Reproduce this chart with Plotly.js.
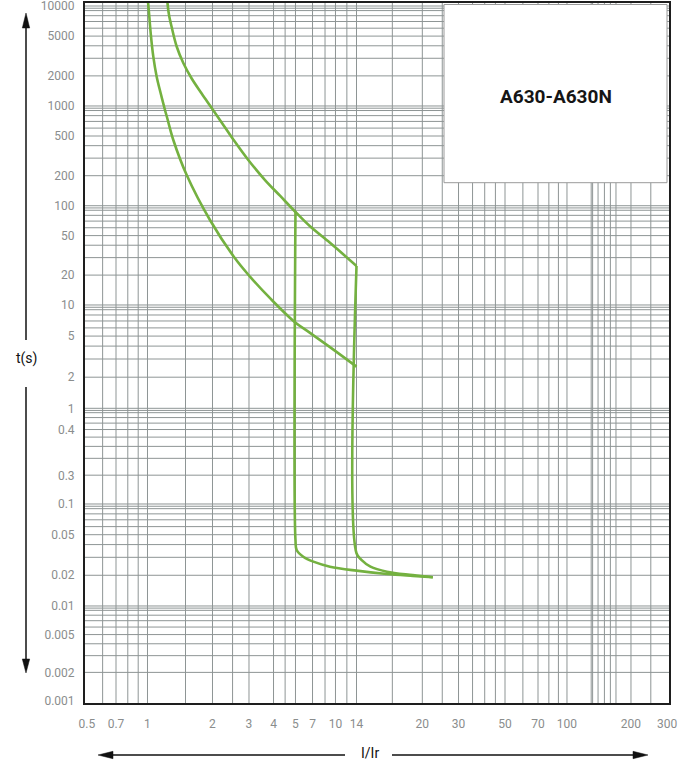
<!DOCTYPE html>
<html>
<head>
<meta charset="utf-8">
<script src="https://cdn.plot.ly/plotly-3.0.1.min.js"></script>
<style>
  html, body { margin: 0; padding: 0; background: #ffffff; }
  #chart { width: 694px; height: 760px; }
</style>
</head>
<body>
<div id="chart"></div>
<script>
// ---- Axis labels ----
const I_TICKS = [0.5, 0.7, 1, 2, 3, 4, 5, 7, 10, 14, 20, 30, 50, 70, 100, 200, 300];
const T_TICKS = [10000, 5000, 2000, 1000, 500, 200, 100, 50, 20, 10, 5, 2, 1, 0.4, 0.3,
                 0.1, 0.05, 0.02, 0.01, 0.005, 0.002, 0.001];

// ---- Thermal release: cold (fast) curve ----
const COLD_I = [1.0, 1.009, 1.035, 1.064, 1.103, 1.151, 1.205, 1.235, 1.317, 1.519, 1.947,
                2.568, 3.035, 3.839, 4.94, 6.66, 9.18, 14];
const COLD_T = [12000, 10230, 5333, 3112, 1963, 1340, 912, 753, 456, 203, 71.8,
                29.5, 19.3, 11.7, 6.89, 5.37, 3.91, 2.53];

// ---- Thermal release: hot (slow) curve ----
const HOT_I = [1.235, 1.238, 1.258, 1.294, 1.365, 1.465, 1.602, 1.782, 1.983, 2.222, 2.519,
               2.977, 3.62, 4.272, 4.94, 6.66, 9.18, 14];
const HOT_T = [12000, 10700, 8128, 6166, 3936, 2692, 1884, 1334, 955, 675, 461,
               287, 181, 126, 89, 62, 42.3, 24.7];

// ---- Magnetic release, low threshold ----
const MAG_LOW_I = [5, 5, 5.12, 5.83, 7.09, 9.18, 14.0, 16.5, 19.0, 22.5];
const MAG_LOW_T = [88, 0.0444, 0.0354, 0.0304, 0.0272, 0.0243, 0.0222, 0.0206, 0.0197, 0.0191];

// ---- Magnetic release, high threshold ----
const MAG_HIGH_I = [14, 14, 14.4, 15.1, 16.5, 19.0, 22.5];
const MAG_HIGH_T = [24.7, 0.0329, 0.0282, 0.0243, 0.0217, 0.0201, 0.0191];

// ---- Ruling of the graph paper ----
const I_GRID = [0.6, 0.7, 0.8, 0.9, 1, 1.5, 2, 2.5, 3, 4, 4.5, 5, 7, 8.5, 10, 12, 14, 17,
                20, 25, 30, 35, 40, 45, 50, 60, 70, 80, 90, 100, 130, 132, 140, 150, 160,
                170, 200, 250];
const T_DECADES = [0.001, 0.01, 0.1, 1, 10, 100, 1000];
const T_STEPS = [2, 3, 4, 5, 6, 7, 8, 9, 9.5, 10];

// ---- Scales: anchor value -> fraction of the axis, logarithmic between anchors ----
const X_ANCHOR_VAL = I_TICKS;
const X_ANCHOR_POS = [0.0031, 0.0531, 0.1070, 0.2183, 0.2808, 0.3228, 0.3604, 0.3896,
                      0.4289, 0.4649, 0.5776, 0.6396, 0.7192, 0.7757, 0.8253, 0.9349, 0.9966];
// decade ruling of the time axis
const Y_DECADE_VAL = [0.001, 0.01, 0.1, 1, 10, 100, 1000, 10000];
const Y_DECADE_POS = [0.0029, 0.1386, 0.2843, 0.4210, 0.5686, 0.7104, 0.8529, 0.9957];
// labelled time scale (the 0.3 / 0.4 labels sit inside the 0.1-1 decade)
const Y_ANCHOR_VAL = [0.001, 0.01, 0.1, 0.3, 0.4, 1, 10, 100, 1000, 10000];
const Y_ANCHOR_POS = [0.0029, 0.1386, 0.2843, 0.3247, 0.3900, 0.4210, 0.5686, 0.7104, 0.8529, 0.9957];

function makeScale(vals, pos) {
  return function (v) {
    let i = 0;
    while (i < vals.length - 2 && v > vals[i + 1]) i++;
    const f = Math.log(v / vals[i]) / Math.log(vals[i + 1] / vals[i]);
    return pos[i] + f * (pos[i + 1] - pos[i]);
  };
}
const sx = makeScale(X_ANCHOR_VAL, X_ANCHOR_POS);
const sy = makeScale(Y_ANCHOR_VAL, Y_ANCHOR_POS);
const syRule = makeScale(Y_DECADE_VAL, Y_DECADE_POS);

// ---- Page geometry helpers (plot area 584 x 700 px at left 85, top 3) ----
const M = { l: 85, r: 25, t: 3, b: 57 };
const PW = 694 - M.l - M.r, PH = 760 - M.t - M.b;
const px = p => (p - M.l) / PW;
const py = p => (M.t + PH - p) / PH;

const GREEN = '#74b140';
const GRID = '#8e9595';

function curve(I, T, name) {
  return {
    type: 'scatter', mode: 'lines', name: name,
    x: I.map(sx), y: T.map(sy),
    line: { color: GREEN, width: 2.6, shape: 'spline', smoothing: 1.0 },
    hoverinfo: 'skip'
  };
}

const data = [
  curve(COLD_I, COLD_T, 'cold'),
  curve(HOT_I, HOT_T, 'hot'),
  curve(MAG_LOW_I, MAG_LOW_T, 'magnetic low'),
  curve(MAG_HIGH_I, MAG_HIGH_T, 'magnetic high')
];

const shapes = [];
I_GRID.forEach(v => shapes.push({
  type: 'line', xref: 'x', yref: 'paper', x0: sx(v), x1: sx(v), y0: 0, y1: 1,
  line: { color: GRID, width: 1 }, layer: 'below'
}));
T_DECADES.forEach(d => T_STEPS.forEach(s => {
  const v = syRule(d * s);
  shapes.push({
    type: 'line', xref: 'paper', yref: 'y', x0: 0, x1: 1, y0: v, y1: v,
    line: { color: GRID, width: 1 }, layer: 'below'
  });
}));

// label box
shapes.push({
  type: 'rect', xref: 'paper', yref: 'paper',
  x0: px(444), x1: px(667), y0: py(182.7), y1: py(4.5),
  fillcolor: '#ffffff', line: { color: '#9a9a9a', width: 1 }, layer: 'above'
});

// axis arrows
const AX = { color: '#111111', width: 1.5 };
const vx = px(26);
shapes.push({ type: 'line', xref: 'paper', yref: 'paper', x0: vx, x1: vx, y0: py(27), y1: py(340), line: AX });
shapes.push({ type: 'line', xref: 'paper', yref: 'paper', x0: vx, x1: vx, y0: py(387), y1: py(660), line: AX });
const hy = py(755);
shapes.push({ type: 'line', xref: 'paper', yref: 'paper', x0: px(112), x1: px(345), y0: hy, y1: hy, line: AX });
shapes.push({ type: 'line', xref: 'paper', yref: 'paper', x0: px(392), x1: px(634), y0: hy, y1: hy, line: AX });

function tri(a, b, c) {
  const f = p => px(p[0]).toFixed(5) + ',' + py(p[1]).toFixed(5);
  return {
    type: 'path', xref: 'paper', yref: 'paper',
    path: 'M' + f(a) + ' L' + f(b) + ' L' + f(c) + ' Z',
    fillcolor: '#111111', line: { color: '#111111', width: 0.5 }
  };
}
shapes.push(tri([26, 13], [22.3, 28], [29.7, 28]));
shapes.push(tri([26, 673], [22.3, 659], [29.7, 659]));
shapes.push(tri([98, 755], [113, 751.3], [113, 758.7]));
shapes.push(tri([648, 755], [633, 751.3], [633, 758.7]));

const FONT = 'Roboto, Arial, sans-serif';
const annotations = [
  {
    xref: 'paper', yref: 'paper', x: px(555.5), y: py(97), xanchor: 'center', yanchor: 'middle',
    text: '<b>A630-A630N</b>', showarrow: false,
    font: { family: FONT, size: 19, color: '#151515' }
  },
  {
    xref: 'paper', yref: 'paper', x: px(26), y: py(358), xanchor: 'center', yanchor: 'middle',
    text: 't(s)', showarrow: false, font: { family: FONT, size: 14, color: '#111111' }
  },
  {
    xref: 'paper', yref: 'paper', x: px(370), y: py(753), xanchor: 'center', yanchor: 'middle',
    text: 'I/Ir', showarrow: false, font: { family: FONT, size: 14, color: '#111111' }
  }
];

const tickFont = { family: FONT, size: 12, color: '#8a8d8d' };

const layout = {
  width: 694, height: 760,
  margin: M,
  paper_bgcolor: '#ffffff', plot_bgcolor: '#ffffff',
  showlegend: false,
  xaxis: {
    type: 'linear', range: [0, 1], fixedrange: true,
    tickmode: 'array', tickvals: I_TICKS.map(sx), ticktext: I_TICKS.map(String),
    showgrid: false, zeroline: false, ticks: '',
    showline: true, mirror: true, linecolor: '#1e1e1e', linewidth: 2,
    tickfont: tickFont, ticklabelstandoff: 9, ticklabeloverflow: 'allow'
  },
  yaxis: {
    type: 'linear', range: [0, 1], fixedrange: true,
    tickmode: 'array', tickvals: T_TICKS.map(sy), ticktext: T_TICKS.map(String),
    showgrid: false, zeroline: false, ticks: '',
    showline: true, mirror: true, linecolor: '#1e1e1e', linewidth: 2,
    tickfont: tickFont, ticklabelstandoff: 6, ticklabeloverflow: 'allow'
  },
  shapes: shapes,
  annotations: annotations
};

Plotly.newPlot('chart', data, layout, { displayModeBar: false, staticPlot: true });
</script>
</body>
</html>
